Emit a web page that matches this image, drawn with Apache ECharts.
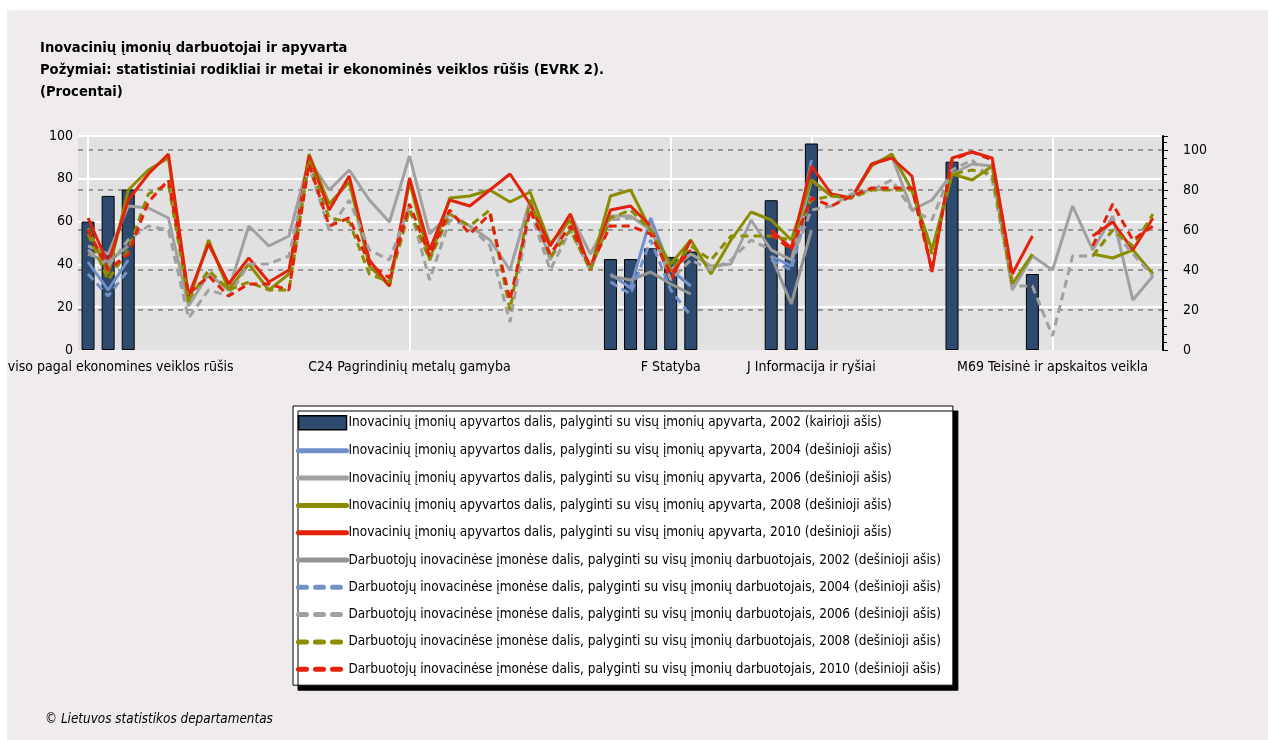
<!DOCTYPE html>
<html lang="lt">

<head>
    <meta charset="UTF-8">
    <title>Inovacinių įmonių darbuotojai ir apyvarta</title>
    <style>
        html, body { margin: 0; padding: 0; background: #fff; }
        #main { width: 1268px; height: 740px; }
    </style>
</head>

<body>
    <div id="main"></div>

    <script src="https://cdn.jsdelivr.net/npm/echarts@6.0.0/dist/echarts.min.js"></script>
    <script>
        // kategorijos (EVRK 2)
        var categories = [
            'Iš viso pagal ekonomines veiklos rūšis', 'B Kasyba ir karjerų eksploatavimas', 'C Apdirbamoji gamyba',
            'C10 Maisto produktų gamyba', 'C11 Gėrimų gamyba', 'C13 Tekstilės gaminių gamyba', 'C14 Drabužių siuvimas',
            'C15 Odos ir odos dirbinių gamyba', 'C16 Medienos ir medienos gaminių gamyba', 'C17 Popieriaus ir popieriaus gaminių gamyba',
            'C18 Spausdinimas ir įrašytų laikmenų tiražavimas', 'C19 Kokso ir rafinuotų naftos produktų gamyba',
            'C20 Chemikalų ir chemijos produktų gamyba', 'C21 Pagrindinių vaistų pramonės gaminių gamyba',
            'C22 Guminių ir plastikinių gaminių gamyba', 'C23 Kitų nemetalo mineralinių produktų gamyba',
            'C24 Pagrindinių metalų gamyba', 'C25 Metalo gaminių gamyba', 'C26 Kompiuterinių, elektroninių ir optinių gaminių gamyba',
            'C27 Elektros įrangos gamyba', 'C28 Niekur kitur nepriskirtų mašinų ir įrangos gamyba',
            'C29 Variklinių transporto priemonių gamyba', 'C30 Kitų transporto priemonių gamyba', 'C31 Baldų gamyba',
            'C32 Kita gamyba', 'C33 Mašinų ir įrangos remontas ir įrengimas',
            'D Elektros, dujų, garo tiekimas ir oro kondicionavimas', 'E Vandens tiekimas, nuotekų valymas, atliekų tvarkymas',
            'E36 Vandens surinkimas, valymas ir tiekimas', 'F Statyba', 'G46 Didmeninė prekyba',
            'H Transportas ir saugojimas', 'H49 Sausumos transportas', 'H50 Vandens transportas', 'H51 Oro transportas',
            'H52 Sandėliavimas', 'J Informacija ir ryšiai', 'J58 Leidybinė veikla', 'J61 Telekomunikacijos',
            'J62 Kompiuterių programavimo veikla', 'J63 Informacinių paslaugų veikla', 'K Finansinė ir draudimo veikla',
            'K64 Finansinių paslaugų veikla', 'K65 Draudimas', 'K66 Pagalbinė finansinių paslaugų veikla',
            'M Profesinė, mokslinė ir techninė veikla', 'M71 Architektūros ir inžinerijos veikla',
            'M72 Moksliniai tyrimai ir taikomoji veikla', 'M69 Teisinė ir apskaitos veikla', 'M70 Pagrindinių buveinių veikla',
            'M73 Reklama ir rinkos tyrimai', 'M74 Kita profesinė veikla', 'N Administracinė ir aptarnavimo veikla',
            'N80 Apsaugos ir tyrimų veikla'
        ];
        // kurių kategorijų pavadinimai rodomi ašyje
        var shownLabels = [0, 16, 29, 36, 48];

        var leftTicks = [0, 20, 40, 60, 80, 100];
        var rightTicks = [0, 20, 40, 60, 80, 100];

        // apyvartos dalis 2002 (kairioji ašis)
        var turnover2002 = [
            60, 72, 75, null, null, null, null, null, null, null,
            null, null, null, null, null, null, null, null, null, null,
            null, null, null, null, null, null, 42.5, 42.5, 47.5, 43.5,
            46, null, null, null, 70, 49, 96.5, null, null, null,
            null, null, null, 88, null, null, null, 35.5, null, null,
            null, null, null, null
        ];
        var turnover2004 = [
            44, 30, 45, null, null, null, null, null, null, null,
            null, null, null, null, null, null, null, null, null, null,
            null, null, null, null, null, null, 38, 31, 66, 40,
            32, null, null, null, 47, 42, 95, null, null, null,
            null, null, null, null, null, null, null, null, null, null,
            null, null, null, null
        ];
        var turnover2006 = [
            52, 48, 72, 71, 66, 22, 38, 30, 62, 52,
            57, 95, 80, 90, 75, 64, 97, 58, 68, 62,
            55, 40, 75, 45, 68, 48, 67, 67, 60, 40,
            48, 42, 43, 65, 50, 45, 85, 77, 76, 93,
            97, 70, 75, 88, 93, 92, 30, 47, 40, 72,
            50, 67, 25, 37
        ];
        var turnover2008 = [
            61, 38, 80, 90, 96, 24, 55, 30, 43, 30,
            38, 98, 73, 84, 42, 32, 84, 45, 76, 77,
            80, 74, 79, 53, 65, 40, 77, 80, 60, 43,
            55, 38, 55, 69, 65, 55, 85, 77, 76, 92,
            98, 80, 50, 88, 85, 92, 33, 48, null, null,
            48, 46, 50, 38
        ];
        var turnover2010 = [
            66, 43, 75, 88, 98, 27, 53, 33, 46, 34,
            40, 97, 70, 87, 45, 32, 86, 50, 75, 72,
            80, 88, 73, 52, 68, 40, 70, 72, 62, 35,
            55, null, null, null, 60, 51, 92, 78, 76, 93,
            96, 87, 39, 96, 99, 96, 38, 57, null, null,
            57, 64, 50, 66
        ];
        // darbuotojų dalis
        var staff2002 = [
            48, 44, 52, null, null, null, null, null, null, null,
            null, null, null, null, null, null, null, null, null, null,
            null, null, null, null, null, null, 37, 35, 39, 33,
            28, null, null, null, 47, 23, 60, null, null, null,
            null, null, null, 85, null, null, null, 30, null, null,
            null, null, null, null
        ];
        var staff2004 = [
            38, 27, 40, null, null, null, null, null, null, null,
            null, null, null, null, null, null, null, null, null, null,
            null, null, null, null, null, null, 34, 28, 55, 30,
            17, null, null, null, 45, 40, 78, null, null, null,
            null, null, null, null, null, null, null, null, null, null,
            null, null, null, null
        ];
        var staff2006 = [
            50, 42, 55, 62, 60, 16, 30, 27, 43, 43,
            47, 92, 60, 75, 50, 45, 72, 35, 65, 62,
            52, 14, 70, 40, 60, 40, 65, 66, 62, 35,
            45, 40, 45, 55, 50, 45, 70, 72, 78, 80,
            85, 70, 65, 90, 95, 85, 32, 32, 7, 47,
            47, 60, 48, 37
        ];
        var staff2008 = [
            58, 35, 50, 78, 83, 25, 40, 30, 34, 30,
            30, 95, 66, 64, 38, 34, 70, 45, 68, 62,
            70, 20, 75, 46, 60, 40, 66, 70, 60, 40,
            52, 45, 57, 57, 57, 55, 75, 77, 76, 80,
            80, 80, 48, 88, 90, 88, 33, null, null, null,
            47, 60, 52, 68
        ];
        var staff2010 = [
            60, 40, 48, 74, 85, 28, 37, 27, 33, 33,
            30, 93, 62, 66, 43, 36, 73, 47, 70, 58,
            68, 25, 70, 48, 62, 42, 62, 62, 58, 38,
            50, null, null, null, 58, 50, 76, 72, 77, 81,
            81, 81, 40, 95, 99, 95, 36, null, null, null,
            52, 73, 55, 62
        ];

        var FONT = "'Liberation Sans Narrow', 'DejaVu Sans Condensed', sans-serif";

        var names = [
            'Inovacinių įmonių apyvartos dalis, palyginti su visų įmonių apyvarta, 2002 (kairioji ašis)',
            'Inovacinių įmonių apyvartos dalis, palyginti su visų įmonių apyvarta, 2004 (dešinioji ašis)',
            'Inovacinių įmonių apyvartos dalis, palyginti su visų įmonių apyvarta, 2006 (dešinioji ašis)',
            'Inovacinių įmonių apyvartos dalis, palyginti su visų įmonių apyvarta, 2008 (dešinioji ašis)',
            'Inovacinių įmonių apyvartos dalis, palyginti su visų įmonių apyvarta, 2010 (dešinioji ašis)',
            'Darbuotojų inovacinėse įmonėse dalis, palyginti su visų įmonių darbuotojais, 2002 (dešinioji ašis)',
            'Darbuotojų inovacinėse įmonėse dalis, palyginti su visų įmonių darbuotojais, 2004 (dešinioji ašis)',
            'Darbuotojų inovacinėse įmonėse dalis, palyginti su visų įmonių darbuotojais, 2006 (dešinioji ašis)',
            'Darbuotojų inovacinėse įmonėse dalis, palyginti su visų įmonių darbuotojais, 2008 (dešinioji ašis)',
            'Darbuotojų inovacinėse įmonėse dalis, palyginti su visų įmonių darbuotojais, 2010 (dešinioji ašis)'
        ];
        var dashedLines = [false, false, false, false, false, true, true, true, true];

        function showLabel(index) {
            return shownLabels.indexOf(index) >= 0;
        }

        function lineSeries(name, data, color, dashed) {
            return {
                name: name,
                type: 'line',
                yAxisIndex: 1,
                data: data,
                symbol: 'none',
                connectNulls: false,
                itemStyle: { color: color },
                lineStyle: { color: color, width: 3, type: dashed ? [8, 5] : 'solid' },
                emphasis: { disabled: true }
            };
        }

        window.onload = function () {
            var myChart = echarts.init(document.getElementById('main'));

            // legendos elementai: stačiakampis stulpeliams, storos linijos be simbolių
            var legendData = names.map(function (n, i) {
                if (i === 0) {
                    return { name: n, icon: 'rect', itemStyle: { borderColor: '#000', borderWidth: 1.5 } };
                }
                return {
                    name: n,
                    itemStyle: { opacity: 0 },
                    lineStyle: { width: 5, cap: 'round', type: dashedLines[i - 1] ? [8, 9] : 'solid' }
                };
            });

            var option = {
                animation: false,
                backgroundColor: '#efebef',
                textStyle: { fontFamily: FONT, color: '#000' },
                title: [
                    {
                        text: 'Inovacinių įmonių darbuotojai ir apyvarta\nPožymiai: statistiniai rodikliai ir metai ir ekonominės veiklos rūšis (EVRK 2).\n(Procentai)',
                        left: 35,
                        top: 32,
                        textStyle: { fontFamily: FONT, fontSize: 14.6, fontWeight: 'bold', lineHeight: 22, color: '#000' }
                    },
                    {
                        text: '© Lietuvos statistikos departamentas',
                        left: 40,
                        top: 708,
                        textStyle: { fontFamily: FONT, fontSize: 13.4, fontStyle: 'italic', fontWeight: 'normal', color: '#000' }
                    }
                ],
                // baltos juostos viršuje ir kairėje (uždengia nukirptą ašies užrašą)
                graphic: [
                    { type: 'rect', left: 0, top: 0, z: 100, shape: { width: 1268, height: 10 }, style: { fill: '#fff' }, silent: true },
                    { type: 'rect', left: 0, top: 0, z: 100, shape: { width: 7, height: 740 }, style: { fill: '#fff' }, silent: true }
                ],
                grid: {
                    show: true,
                    left: 78,
                    right: 105,
                    top: 136,
                    bottom: 390,
                    containLabel: false,
                    outerBoundsMode: 'none',
                    backgroundColor: '#e1e1e1',
                    borderWidth: 0
                },
                legend: {
                    orient: 'vertical',
                    left: 293,
                    top: 406,
                    padding: [9, 12, 9, 3],
                    itemGap: 13.3,
                    itemWidth: 48,
                    itemHeight: 14,
                    backgroundColor: '#fff',
                    borderColor: '#000',
                    borderWidth: 1,
                    borderRadius: 0,
                    shadowColor: '#000',
                    shadowOffsetX: 5,
                    shadowOffsetY: 5,
                    shadowBlur: 0,
                    textStyle: { fontFamily: FONT, fontSize: 13.5, color: '#000', padding: [0, 0, 0, -3] },
                    selectedMode: false,
                    data: legendData
                },
                xAxis: {
                    type: 'category',
                    data: categories,
                    axisLine: { show: false },
                    axisTick: { show: false, alignWithLabel: true, interval: showLabel },
                    splitLine: {
                        show: true,
                        interval: showLabel,
                        alignWithLabel: true,
                        lineStyle: { color: '#fff', width: 2 }
                    },
                    axisLabel: {
                        interval: showLabel,
                        margin: 10,
                        fontFamily: FONT,
                        fontSize: 14,
                        color: '#000',
                        hideOverlap: false,
                        formatter: function (value, index) {
                            return index === 0 ? '{first|' + value + '}' : value;
                        },
                        rich: {
                            first: { fontFamily: FONT, fontSize: 14, color: '#000', padding: [0, 0, 0, 51] }
                        }
                    }
                },
                yAxis: [
                    {
                        type: 'value',
                        min: 0,
                        max: 100,
                        interval: 20,
                        position: 'left',
                        axisLine: { show: false },
                        axisTick: { show: false },
                        axisLabel: {
                            margin: 5,
                            fontFamily: FONT,
                            fontSize: 14,
                            color: '#000',
                            formatter: function (v) { return leftTicks.indexOf(v) >= 0 ? v : ''; }
                        },
                        splitLine: { show: true, showMinLine: false, lineStyle: { color: '#fff', width: 2 } }
                    },
                    {
                        type: 'value',
                        min: 0,
                        max: 107,
                        interval: 20,
                        position: 'right',
                        axisLine: { show: true, lineStyle: { color: '#000', width: 2 } },
                        axisTick: { show: true, length: 5, lineStyle: { color: '#000', width: 1 } },
                        minorTick: { show: true, splitNumber: 5, length: 4, lineStyle: { color: '#000', width: 1 } },
                        axisLabel: {
                            margin: 20,
                            showMaxLabel: false,
                            fontFamily: FONT,
                            fontSize: 14,
                            color: '#000',
                            formatter: function (v) { return rightTicks.indexOf(v) >= 0 ? v : ''; }
                        },
                        splitLine: {
                            show: true,
                            showMinLine: false,
                            showMaxLine: false,
                            lineStyle: { color: '#999', width: 2, type: [5, 5] }
                        }
                    }
                ],
                series: [
                    {
                        name: names[0],
                        type: 'bar',
                        yAxisIndex: 0,
                        data: turnover2002,
                        barWidth: 13,
                        itemStyle: { color: '#2e4a6e', borderColor: '#000', borderWidth: 1 },
                        emphasis: { disabled: true }
                    },
                    lineSeries(names[1], turnover2004, '#7090c8', false),
                    lineSeries(names[2], turnover2006, '#a0a0a0', false),
                    lineSeries(names[3], turnover2008, '#8c8c00', false),
                    lineSeries(names[4], turnover2010, '#e2220a', false),
                    lineSeries(names[5], staff2002, '#939393', false),
                    lineSeries(names[6], staff2004, '#7090c8', true),
                    lineSeries(names[7], staff2006, '#a0a0a0', true),
                    lineSeries(names[8], staff2008, '#8c8c00', true),
                    lineSeries(names[9], staff2010, '#e2220a', true)
                ]
            };
            myChart.setOption(option);
        }
    </script>
</body>

</html>
